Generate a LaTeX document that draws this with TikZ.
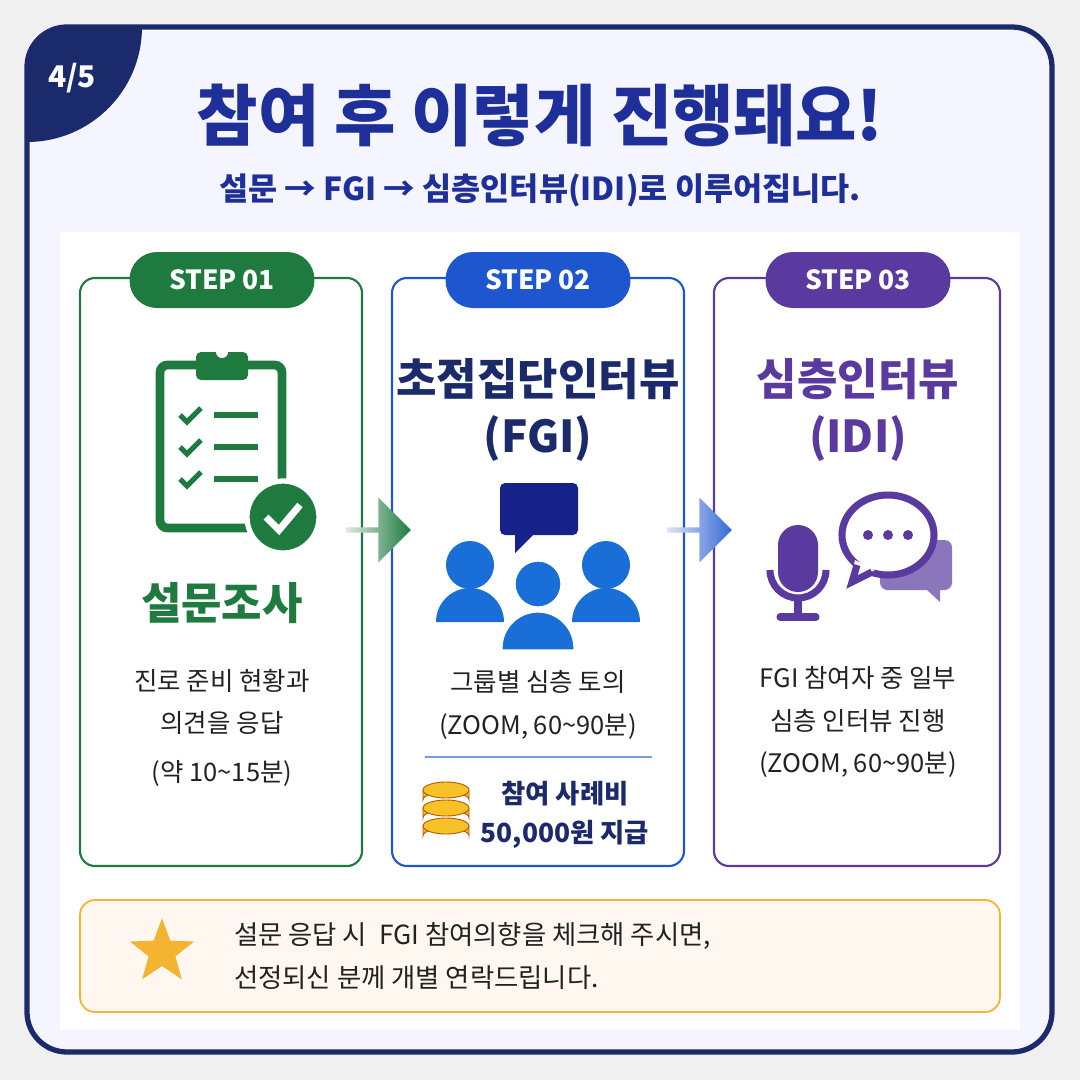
\documentclass[tikz,border=0pt]{standalone}
\usepackage{fontspec}
\setmainfont{Noto Sans CJK KR}
\usetikzlibrary{positioning,shapes.geometric,shapes.arrows,calc}
\definecolor{navy}{HTML}{1B2A6B}
\definecolor{titleblue}{HTML}{1F2F9A}
\definecolor{cgreen}{HTML}{1E7A3E}
\definecolor{cblue}{HTML}{1E56D0}
\definecolor{cpurple}{HTML}{5A3A9E}
\definecolor{corange}{HTML}{F5B332}
\definecolor{txt}{HTML}{222222}
\tikzset{
    card/.style={line width=1.2pt, rounded corners=0.3cm, fill=white},
    badge/.style={rounded corners=0.55cm, minimum width=3.7cm, minimum height=1.12cm,
        text=white, font=\fontsize{15}{15}\selectfont\bfseries},
    head/.style={font=\fontsize{25}{32}\selectfont\bfseries, align=center},
    body/.style={font=\fontsize{14.5}{20}\selectfont, text=txt, align=center},
    flow/.style={single arrow, minimum height=1.3cm, minimum width=1.3cm,
        single arrow head extend=0.08cm, inner sep=0pt}
}
\begin{document}
\begin{tikzpicture}[x=0.02cm, y=-0.02cm]
    \useasboundingbox (0,0) rectangle (1080,1080);
    \fill[gray!12] (0,0) rectangle (1080,1080);
    % Frame
    \begin{scope}
        \clip[rounded corners=0.8cm] (27,27) rectangle (1052,1052);
        \fill[white!96!blue] (27,27) rectangle (1052,1052);
        \fill[navy] (27,27) circle (115);
    \end{scope}
    \draw[navy, line width=3pt, rounded corners=0.8cm] (27,27) rectangle (1052,1052);
    \node[text=white, font=\fontsize{17}{17}\selectfont\bfseries] (page) at (72,78) {4/5};
    % Title
    \node[text=titleblue, font=\fontsize{38}{38}\selectfont\bfseries] (title) at (540,115) {참여 후 이렇게 진행돼요!};
    \node[text=titleblue, font=\fontsize{18}{18}\selectfont\bfseries] (sub) at (540,190) {설문 → FGI → 심층인터뷰(IDI)로 이루어집니다.};
    \fill[white] (60,232) rectangle (1020,1030);
    % Cards
    \draw[card, draw=cgreen] (80,278) rectangle (362,866);
    \draw[card, draw=cblue] (392,278) rectangle (684,866);
    \draw[card, draw=cpurple] (714,278) rectangle (1000,866);
    \node[badge, fill=cgreen] (s1) at (222,280) {STEP 01};
    \node[badge, fill=cblue] (s2) at (538,280) {STEP 02};
    \node[badge, fill=cpurple] (s3) at (858,280) {STEP 03};
    % Arrows between steps
    \node[flow, left color=cgreen!15, right color=cgreen] (a1) at (377,530) {};
    \node[flow, left color=cblue!15, right color=cblue!90] (a2) at (698,530) {};
    % Step 1: clipboard
    \draw[cgreen, line width=5pt, rounded corners=0.15cm] (160,365) rectangle (282,528);
    \fill[cgreen, rounded corners=0.1cm] (196,352) rectangle (248,380);
    \fill[white] (222,352) circle (6);
    \foreach \yy in {415,447,479} {
        \draw[cgreen, line width=3pt] (180,\yy) -- (187,\yy+7) -- (201,\yy-7);
        \draw[cgreen, line width=3.5pt] (214,\yy) -- (258,\yy);
    }
    \filldraw[fill=cgreen, draw=white, line width=3pt] (283,517) circle (36);
    \draw[white, line width=4pt] (266,517) -- (279,530) -- (300,505);
    \node[head, text=cgreen] (h1) at (222,603) {설문조사};
    \node[body] (t1) at (222,728) {진로 준비 현황과\\[4pt]의견을 응답\\[8pt](약 10\textasciitilde15분)};
    % Step 2: group
    \node[head, text=navy] (h2) at (538,410) {초점집단인터뷰\\(FGI)};
    \fill[navy!80!blue, rounded corners=0.1cm] (500,483) rectangle (578,535);
    \fill[navy!80!blue] (515,533) -- (515,553) -- (535,533) -- cycle;
    \begin{scope}
        \colorlet{ppl}{cblue!85!cyan}
        \fill[ppl] (470,565) circle (24);
        \fill[ppl] (606,565) circle (24);
        \fill[ppl] (436,622) arc[start angle=180, end angle=360, radius=34] -- cycle;
        \fill[ppl] (572,622) arc[start angle=180, end angle=360, radius=34] -- cycle;
        \filldraw[fill=ppl, draw=white, line width=3pt] (538,584) circle (25);
        \filldraw[fill=ppl, draw=white, line width=3pt] (500,652) -- (500,648) arc[start angle=180, end angle=360, radius=38] -- (576,652) -- cycle;
    \end{scope}
    \node[body] (t2) at (538,705) {그룹별 심층 토의\\[4pt](ZOOM, 60\textasciitilde90분)};
    \draw[cblue!60, line width=0.8pt] (425,757) -- (652,757);
    % coins
    \foreach \yy in {826,808,790} {
        \fill[corange, draw=orange!70!black, line width=0.5pt] (423,\yy) -- (423,\yy+10) arc[start angle=180, end angle=360, x radius=23, y radius=8] -- (469,\yy) -- cycle;
        \fill[corange!80!yellow, draw=orange!70!black, line width=0.5pt] (446,\yy) ellipse (23 and 8);
    }
    \node[text=navy, font=\fontsize{15}{22}\selectfont\bfseries, align=center] (fee) at (565,815) {참여 사례비\\50,000원 지급};
    % Step 3: mic and chat
    \node[head, text=cpurple] (h3) at (858,410) {심층인터뷰\\(IDI)};
    \fill[cpurple!70, rounded corners=0.15cm] (880,540) rectangle (952,590);
    \fill[cpurple!70] (925,588) -- (940,602) -- (940,588) -- cycle;
    \draw[cpurple, line width=4pt, fill=white] (888,535) ellipse (46 and 40);
    \fill[white] (855,560) -- (850,583) -- (875,570) -- cycle;
    \draw[cpurple, line width=4pt] (857,565) -- (852,582) -- (872,572);
    \foreach \xx in {868,888,908} \fill[cpurple] (\xx,535) circle (5);
    \fill[cpurple, rounded corners=0.4cm] (778,525) rectangle (818,592);
    \draw[cpurple, line width=4pt] (770,570) arc[start angle=180, end angle=0, radius=28];
    \draw[cpurple, line width=4pt] (798,598) -- (798,615);
    \draw[cpurple, line width=4pt, line cap=round] (780,617) -- (816,617);
    \node[body] (t3) at (858,722) {FGI 참여자 중 일부\\[4pt]심층 인터뷰 진행\\[4pt](ZOOM, 60\textasciitilde90분)};
    % Notice
    \draw[corange, fill=orange!6, line width=1pt, rounded corners=0.3cm] (80,900) rectangle (1000,1012);
    \node[star, star points=5, star point ratio=2.4, fill=corange, minimum size=1.35cm, inner sep=0pt] (star) at (162,952) {};
    \node[body, align=left, anchor=west, font=\fontsize{15}{24}\selectfont] (note) at (228,956) {설문 응답 시 \ FGI 참여의향을 체크해 주시면,\\선정되신 분께 개별 연락드립니다.};
\end{tikzpicture}
\end{document}
